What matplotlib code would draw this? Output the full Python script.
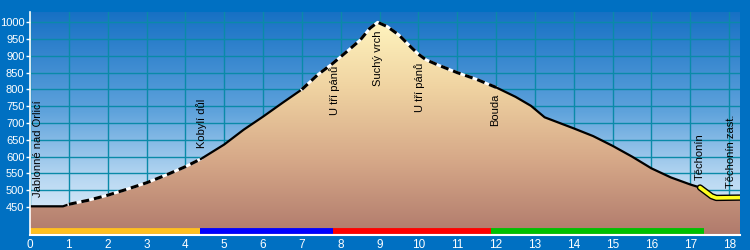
import numpy as np
import matplotlib
matplotlib.use("Agg")
import matplotlib.pyplot as plt
from matplotlib.colors import LinearSegmentedColormap

plt.rcParams['font.family'] = ['Liberation Sans', 'DejaVu Sans']

# ---- data ----
dist = [0.0, 0.85, 1.0, 1.5, 2.0, 2.5, 3.0, 3.5, 4.0, 4.4, 5.0, 5.5, 6.0, 6.5, 7.0,
        7.4, 7.8, 8.2, 8.5, 8.75, 8.95, 9.2, 9.5, 9.8, 10.0, 10.2, 10.5, 11.0, 11.5,
        12.0, 12.5, 12.9, 13.25, 14.0, 14.5, 15.0, 15.5, 16.0, 16.5, 17.0, 17.25,
        17.55, 17.67, 18.28]
elev = [452, 452, 458, 470, 485, 503, 522, 545, 570, 593, 636, 680, 719, 760, 800,
        843, 878, 917, 947, 982, 1000, 987, 962, 927, 905, 888, 873, 850, 830,
        806, 778, 751, 717, 684, 661, 632, 600, 565, 538, 517, 508,
        482, 477, 478]

# line-style segments (start km, end km, style)
seg_start = [0.0, 1.0, 4.4, 7.0, 12.0, 17.25]
seg_end = [1.0, 4.4, 7.0, 12.0, 17.25, 18.28]
seg_style = ['solid', 'dashed', 'solid', 'dashed', 'solid', 'highlight']

# coloured route bar
bar_start = [0.0, 4.38, 7.81, 11.88]
bar_end = [4.38, 7.81, 11.88, 17.35]
bar_colors = ['#FFC020', '#0000FF', '#FF0000', '#00C000']

# place labels
place_names = ['Jablonné nad Orlicí', 'Kobylí důl', 'U tří pánů', 'Suchý vrch',
               'U tří pánů', 'Bouda', 'Těchonín', 'Těchonín zast.']
place_km = [0.21, 4.43, 7.85, 8.96, 10.04, 11.97, 17.25, 18.06]
place_elev = [479, 626, 724, 810, 734, 691, 530, 506]

x_ticks = list(range(0, 19))
y_ticks = list(range(450, 1001, 50))

XMIN, XMAX = 0, 18.28
YMIN, YMAX = 366.6, 1032

# ---- figure ----
fig = plt.figure(figsize=(7.5, 2.5), dpi=100, facecolor='#0070C2')
ax = fig.add_axes([30 / 750, 15 / 250, 710 / 750, 223.5 / 250])
ax.set_xlim(XMIN, XMAX)
ax.set_ylim(YMIN, YMAX)

# background gradient of plot area
bg = LinearSegmentedColormap.from_list('bg', [(0.0, '#EAF4FC'), (0.25, '#B8D8F2'),
                                               (0.55, '#5FA3DC'), (1.0, '#1670C4')])
grad = np.linspace(0, 1, 256).reshape(-1, 1)
ax.imshow(grad, cmap=bg, origin='lower', aspect='auto',
          extent=[XMIN, XMAX, YMIN, YMAX], zorder=0)

# grid
for xv in x_ticks:
    ax.axvline(xv, color='#0A8AA8', lw=1.0, zorder=1)
for yv in y_ticks:
    ax.axhline(yv, color='#0A8AA8', lw=1.0, zorder=1)

# filled profile with gradient
fill_cmap = LinearSegmentedColormap.from_list('fill', [(0.0, '#B07A6C'), (0.35, '#D6A888'),
                                                       (0.7, '#F0D4A2'), (1.0, '#FFF4BE')])
poly = ax.fill_between(dist, elev, YMIN, color='none', lw=0, zorder=2)
im = ax.imshow(np.linspace(0, 1, 256).reshape(-1, 1), cmap=fill_cmap, origin='lower',
               aspect='auto', extent=[XMIN, XMAX, YMIN, 1000], zorder=2)
im.set_clip_path(poly.get_paths()[0], transform=ax.transData)

# profile line segments
d = np.array(dist)
e = np.array(elev)
for s, t, st in zip(seg_start, seg_end, seg_style):
    m = (d >= s - 1e-9) & (d <= t + 1e-9)
    xs, ys = d[m], e[m]
    if st == 'solid':
        ax.plot(xs, ys, color='black', lw=1.6, zorder=4, solid_joinstyle='round')
    elif st == 'dashed':
        ax.plot(xs, ys, color='white', lw=2.0, zorder=4)
        ax.plot(xs, ys, color='black', lw=2.2, zorder=5, linestyle=(0, (2.6, 1.6)))
    else:
        ax.plot(xs, ys, color='black', lw=4.6, zorder=4, solid_capstyle='round',
                solid_joinstyle='round')
        ax.plot(xs, ys, color='#FFFF20', lw=2.6, zorder=5, solid_capstyle='round',
                solid_joinstyle='round')

# route colour bar
bar_y = 0.018
for s, t, c in zip(bar_start, bar_end, bar_colors):
    ax.plot([s, t], [bar_y, bar_y], color=c, lw=4.2, zorder=6,
            transform=ax.get_xaxis_transform(), solid_capstyle='butt')
ax.plot([bar_start[0] - 0.03, bar_start[0]], [bar_y, bar_y], color=bar_colors[0], lw=4.2,
        zorder=6, transform=ax.get_xaxis_transform(), solid_capstyle='round')

# place labels
for name, xk, yv in zip(place_names, place_km, place_elev):
    ax.text(xk, yv, name, rotation=90, rotation_mode='anchor', ha='left', va='center',
            fontsize=8, color='black', zorder=7)

# axes styling
ax.set_xticks(x_ticks)
ax.set_yticks(y_ticks)
ax.set_xticklabels([str(v) for v in x_ticks])
ax.set_yticklabels([str(v) for v in y_ticks])
ax.tick_params(axis='y', colors='white', labelcolor='white', labelsize=8,
               length=3, width=1, direction='out', pad=1)
ax.tick_params(axis='x', colors='white', labelcolor='white', labelsize=8.5,
               length=0, pad=3)
for side in ['top', 'right']:
    ax.spines[side].set_visible(False)
ax.spines['left'].set_color('white')
ax.spines['bottom'].set_color('white')
ax.spines['left'].set_linewidth(1.2)
ax.spines['bottom'].set_linewidth(1.5)
ax.spines['left'].set_zorder(8)
ax.spines['bottom'].set_zorder(8)

fig.savefig('out.png', dpi=100, facecolor=fig.get_facecolor())
